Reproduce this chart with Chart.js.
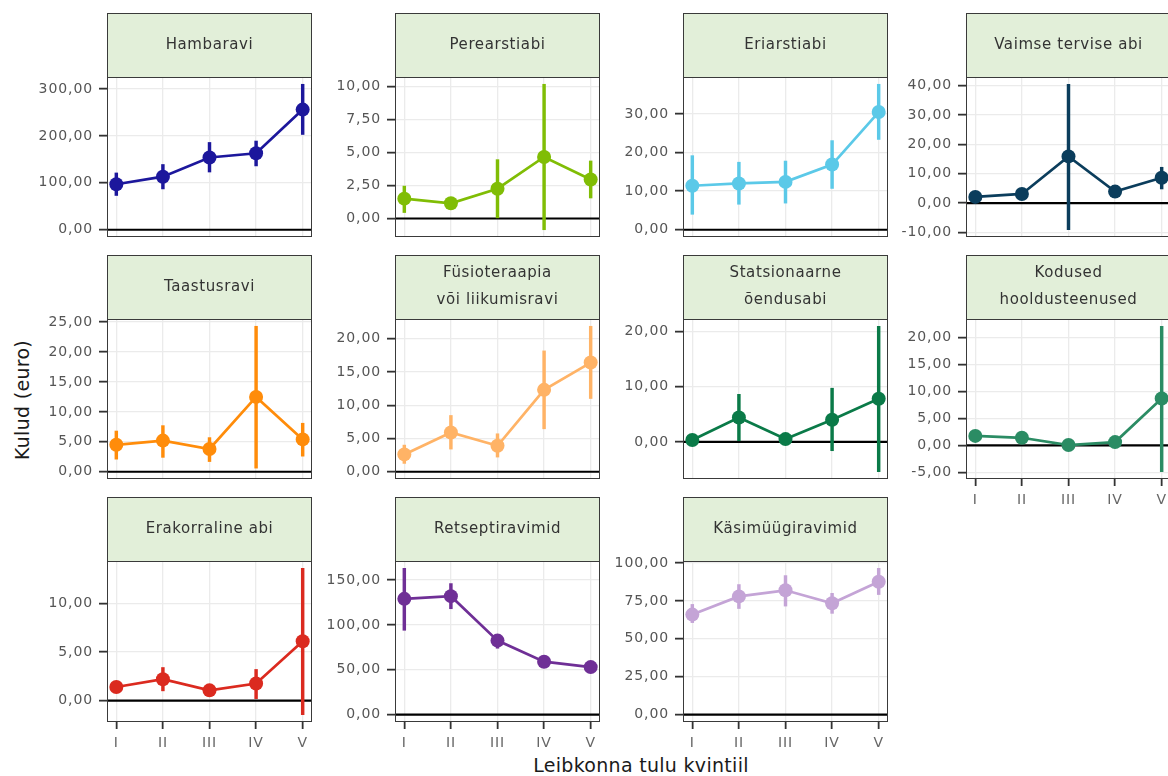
<!DOCTYPE html>
<html>
<head>
<meta charset="utf-8">
<script src="https://cdn.jsdelivr.net/npm/chart.js@4.4.1/dist/chart.umd.min.js"></script>
<style>
  html, body { margin: 0; padding: 0; background: #fff; overflow: hidden; }
  #wrap { position: relative; width: 1168px; height: 776px; overflow: hidden; }
  #wrap canvas { position: absolute; }
  .pealkiri { position: absolute; font-family: "DejaVu Sans", sans-serif; font-size: 19px; color: #1a1a1a; white-space: nowrap; letter-spacing: 0.3px; }
  #ypealkiri { left: 22px; top: 400px; transform: translate(-50%, -50%) rotate(-90deg); }
  #xpealkiri { left: 641px; top: 765px; transform: translate(-50%, -50%); }
</style>
</head>
<body>
<div id="wrap">
  <div class="pealkiri" id="ypealkiri">Kulud (euro)</div>
  <div class="pealkiri" id="xpealkiri">Leibkonna tulu kvintiil</div>
</div>
<script>
// Leibkonna tulu kvintiilid
const kvintiilid = ["I", "II", "III", "IV", "V"];

// Hambaravi
const hambaraviKesk = [97, 113, 154, 163, 256];
const hambaraviAlum = [73, 87, 123, 136, 203];
const hambaraviYlem = [121, 139, 186, 189, 310];
const hambaraviTicks = [0, 100, 200, 300];

// Perearstiabi
const perearstKesk = [1.5, 1.15, 2.25, 4.65, 2.95];
const perearstAlum = [0.45, 0.95, 0.0, -0.85, 1.55];
const perearstYlem = [2.45, 1.35, 4.45, 10.15, 4.35];
const perearstTicks = [0, 2.5, 5, 7.5, 10];

// Eriarstiabi
const eriarstKesk = [11.4, 12, 12.4, 16.9, 30.5];
const eriarstAlum = [4.0, 6.6, 6.9, 10.7, 23.4];
const eriarstYlem = [19.2, 17.5, 17.8, 23.1, 37.7];
const eriarstTicks = [0, 10, 20, 30];

// Vaimse tervise abi
const vaimneKesk = [2.1, 3.1, 15.9, 3.9, 8.6];
const vaimneAlum = [1.3, 2.0, -9.1, 2.9, 4.8];
const vaimneYlem = [2.9, 4.2, 40.5, 5.0, 12.2];
const vaimneTicks = [-10, 0, 10, 20, 30, 40];

// Taastusravi
const taastusKesk = [4.5, 5.2, 3.8, 12.5, 5.4];
const taastusAlum = [2.1, 2.4, 1.7, 0.6, 2.6];
const taastusYlem = [6.8, 7.7, 5.7, 24.3, 8.1];
const taastusTicks = [0, 5, 10, 15, 20, 25];

// Füsioteraapia või liikumisravi
const fysioKesk = [2.6, 5.9, 3.9, 12.3, 16.4];
const fysioAlum = [1.25, 3.4, 2.2, 6.45, 11.0];
const fysioYlem = [4.0, 8.45, 5.7, 18.15, 21.85];
const fysioTicks = [0, 5, 10, 15, 20];

// Statsionaarne õendusabi
const oendusKesk = [0.35, 4.4, 0.5, 4.0, 7.8];
const oendusAlum = [0.1, 0.2, 0.2, -1.6, -5.4];
const oendusYlem = [0.6, 8.6, 0.8, 9.7, 20.9];
const oendusTicks = [0, 10, 20];

// Kodused hooldusteenused
const koduKesk = [1.75, 1.4, 0.05, 0.6, 8.7];
const koduAlum = [1.2, 0.9, -0.2, 0.2, -4.9];
const koduYlem = [2.3, 1.9, 0.3, 1.0, 22.1];
const koduTicks = [-5, 0, 5, 10, 15, 20];

// Erakorraline abi
const erakorrKesk = [1.4, 2.2, 1.05, 1.75, 6.1];
const erakorrAlum = [1.0, 1.0, 0.8, 0.2, -1.45];
const erakorrYlem = [1.8, 3.4, 1.3, 3.2, 13.6];
const erakorrTicks = [0, 5, 10];

// Retseptiravimid
const retseptKesk = [129, 132, 82.5, 59, 53];
const retseptAlum = [94, 118, 74, 55, 49];
const retseptYlem = [163, 146, 89, 63, 57];
const retseptTicks = [0, 50, 100, 150];

// Käsimüügiravimid
const kasimyykKesk = [66, 78, 82, 73.5, 87.6];
const kasimyykAlum = [60.7, 70, 71.6, 66.8, 79.2];
const kasimyykYlem = [72.7, 85.8, 91.7, 80, 96.5];
const kasimyykTicks = [0, 25, 50, 75, 100];

const paneelid = [
  { nimi: ["Hambaravi"], kesk: hambaraviKesk, alum: hambaraviAlum, ylem: hambaraviYlem, ticks: hambaraviTicks, varv: "#1c179c", veerg: 0, rida: 0 },
  { nimi: ["Perearstiabi"], kesk: perearstKesk, alum: perearstAlum, ylem: perearstYlem, ticks: perearstTicks, varv: "#80bd05", veerg: 1, rida: 0 },
  { nimi: ["Eriarstiabi"], kesk: eriarstKesk, alum: eriarstAlum, ylem: eriarstYlem, ticks: eriarstTicks, varv: "#5bc9e8", veerg: 2, rida: 0 },
  { nimi: ["Vaimse tervise abi"], kesk: vaimneKesk, alum: vaimneAlum, ylem: vaimneYlem, ticks: vaimneTicks, varv: "#0b3d5c", veerg: 3, rida: 0 },
  { nimi: ["Taastusravi"], kesk: taastusKesk, alum: taastusAlum, ylem: taastusYlem, ticks: taastusTicks, varv: "#ff8c0a", veerg: 0, rida: 1 },
  { nimi: ["Füsioteraapia", "või liikumisravi"], kesk: fysioKesk, alum: fysioAlum, ylem: fysioYlem, ticks: fysioTicks, varv: "#ffb366", veerg: 1, rida: 1 },
  { nimi: ["Statsionaarne", "õendusabi"], kesk: oendusKesk, alum: oendusAlum, ylem: oendusYlem, ticks: oendusTicks, varv: "#0a7a48", veerg: 2, rida: 1 },
  { nimi: ["Kodused", "hooldusteenused"], kesk: koduKesk, alum: koduAlum, ylem: koduYlem, ticks: koduTicks, varv: "#2b8c64", veerg: 3, rida: 1 },
  { nimi: ["Erakorraline abi"], kesk: erakorrKesk, alum: erakorrAlum, ylem: erakorrYlem, ticks: erakorrTicks, varv: "#db2a1f", veerg: 0, rida: 2 },
  { nimi: ["Retseptiravimid"], kesk: retseptKesk, alum: retseptAlum, ylem: retseptYlem, ticks: retseptTicks, varv: "#6f2f96", veerg: 1, rida: 2 },
  { nimi: ["Käsimüügiravimid"], kesk: kasimyykKesk, alum: kasimyykAlum, ylem: kasimyykYlem, ticks: kasimyykTicks, varv: "#c4a4d6", veerg: 2, rida: 2 }
];

const veeruVasak = [107, 395, 683, 966];
const riba = [13, 255, 497];
const plotiKorgus = [160, 160, 161];
const RIBA = 64, YLAIUS = 88, PAREM = 6, LAIUS = 206;
const FONT = "DejaVu Sans";
const wrap = document.getElementById("wrap");

const vorming = v => v.toFixed(2).replace(".", ",");

// riba, nulljoon ja paneeli raam
const paneeliPlugin = p => ({
  id: "paneel",
  beforeDraw(chart) {
    const { ctx, chartArea: a } = chart;
    ctx.save();
    ctx.fillStyle = "#e2efd9";
    ctx.fillRect(a.left, a.top - RIBA, a.right - a.left, RIBA);
    ctx.strokeStyle = "#3a3a3a";
    ctx.lineWidth = 1;
    ctx.strokeRect(a.left + 0.5, a.top - RIBA + 0.5, a.right - a.left - 1, RIBA);
    ctx.fillStyle = "#333";
    ctx.font = "15px '" + FONT + "'";
    ctx.letterSpacing = "0.6px";
    ctx.textAlign = "center";
    ctx.textBaseline = "middle";
    const cx = (a.left + a.right) / 2, mid = a.top - RIBA / 2;
    p.nimi.forEach((t, i) => ctx.fillText(t, cx, mid + (i - (p.nimi.length - 1) / 2) * 27));
    ctx.restore();
    // teljesiltide laiem kiri
    ctx.letterSpacing = "0.9px";
  },
  beforeDatasetsDraw(chart) {
    const { ctx, chartArea: a, scales } = chart;
    const y0 = scales.y.getPixelForValue(0);
    ctx.save();
    ctx.strokeStyle = "#000";
    ctx.lineWidth = 2.2;
    ctx.beginPath();
    ctx.moveTo(a.left, y0);
    ctx.lineTo(a.right, y0);
    ctx.stroke();
    ctx.restore();
  },
  afterDatasetsDraw(chart) {
    const { ctx, chartArea: a } = chart;
    ctx.save();
    ctx.strokeStyle = "#3a3a3a";
    ctx.lineWidth = 1;
    ctx.strokeRect(a.left + 0.5, a.top + 0.5, a.right - a.left - 1, a.bottom - a.top - 1);
    ctx.restore();
  }
});

paneelid.forEach(p => {
  const naitaX = p.rida === 2 || (p.veerg === 3 && p.rida === 1);
  const xk = naitaX ? 32 : 12;
  const c = document.createElement("canvas");
  c.width = YLAIUS + LAIUS + PAREM;
  c.height = RIBA + plotiKorgus[p.rida] + xk;
  c.style.left = (veeruVasak[p.veerg] - YLAIUS) + "px";
  c.style.top = riba[p.rida] + "px";
  wrap.appendChild(c);

  // ggploti moodi 5% laiendus
  const lo = Math.min(0, ...p.alum), hi = Math.max(0, ...p.ylem);
  const lisa = (hi - lo) * 0.05;

  new Chart(c, {
    type: "line",
    data: {
      datasets: [
        {
          type: "bar",
          data: kvintiilid.map((k, i) => ({ x: i, y: [p.alum[i], p.ylem[i]] })),
          backgroundColor: p.varv,
          borderWidth: 0,
          barThickness: 2.8,
          order: 2
        },
        {
          type: "line",
          data: kvintiilid.map((k, i) => ({ x: i, y: p.kesk[i] })),
          borderColor: p.varv,
          backgroundColor: p.varv,
          borderWidth: 2.7,
          pointRadius: 7,
          pointBorderWidth: 0,
          pointBackgroundColor: p.varv,
          tension: 0,
          order: 1
        }
      ]
    },
    options: {
      responsive: false,
      animation: false,
      events: [],
      devicePixelRatio: 1,
      layout: { padding: { top: RIBA, right: PAREM, left: 0, bottom: 0 } },
      plugins: { legend: { display: false }, tooltip: { enabled: false } },
      scales: {
        x: {
          type: "linear",
          min: -0.2,
          max: 4.2,
          offset: false,
          afterBuildTicks: ax => { ax.ticks = kvintiilid.map((k, i) => ({ value: i })); },
          afterFit: ax => { ax.height = xk; ax.paddingLeft = 0; ax.paddingRight = 0; },
          border: { display: false },
          grid: { color: "#ebebeb", lineWidth: 1.3, offset: false, drawTicks: naitaX, tickLength: 7, tickColor: "#333", tickWidth: 1.8 },
          ticks: { display: naitaX, padding: 6, color: "#666", font: { family: FONT, size: 14 }, callback: v => kvintiilid[v], maxRotation: 0 }
        },
        y: {
          type: "linear",
          min: lo - lisa,
          max: hi + lisa,
          afterBuildTicks: ax => { ax.ticks = p.ticks.map(v => ({ value: v })); },
          afterFit: ax => { ax.width = YLAIUS; ax.paddingTop = 0; ax.paddingBottom = 0; },
          border: { display: false },
          grid: { color: "#ebebeb", lineWidth: 1.3, tickLength: 8, tickColor: "#333", tickWidth: 1.8 },
          ticks: { padding: 6, color: "#555", font: { family: FONT, size: 14 }, callback: v => vorming(v) }
        }
      }
    },
    plugins: [paneeliPlugin(p)]
  });
});
</script>
</body>
</html>
